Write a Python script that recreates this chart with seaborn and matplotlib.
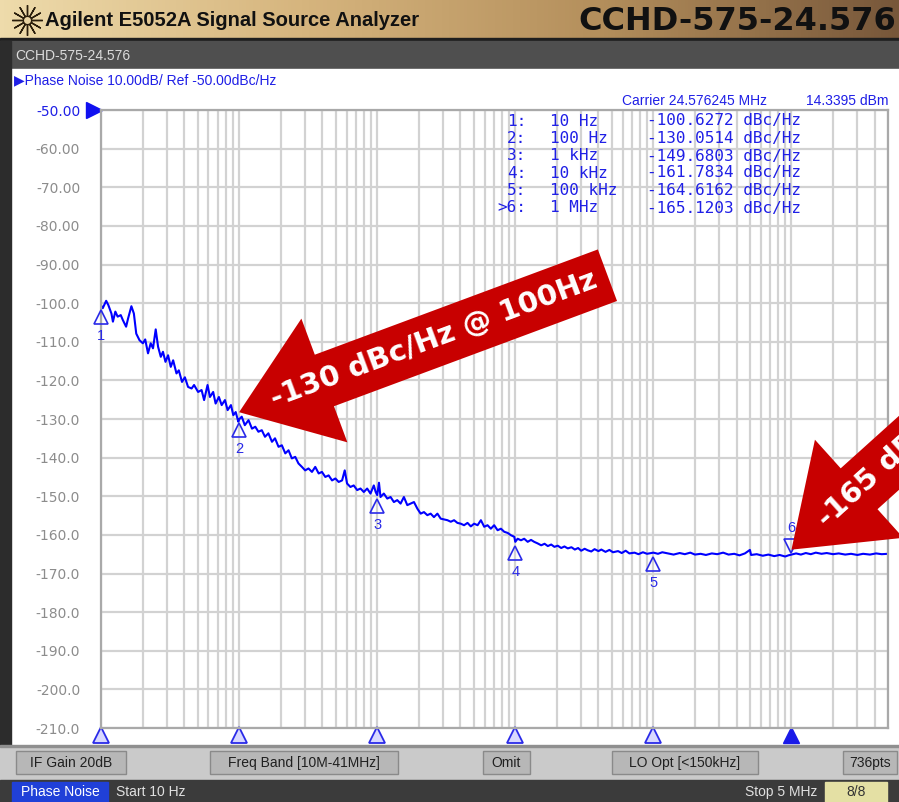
import matplotlib
matplotlib.use("Agg")
import matplotlib.pyplot as plt
import numpy as np
import seaborn as sns
from matplotlib import transforms
from matplotlib.colors import LinearSegmentedColormap
from matplotlib.patches import FancyArrow, Rectangle
from matplotlib.ticker import FixedLocator, LogLocator, NullFormatter

# phase noise trace (offset Hz, dBc/Hz)
trace_hz = [
	10.0, 10.3, 10.9, 11.3, 11.9, 12.2, 12.7, 13.2, 13.9, 14.4, 15.2, 15.7, 16.6, 17.3, 18.0, 19.0,
	20.1, 20.9, 21.9, 22.9, 23.8, 24.9, 25.9, 27.1, 28.1, 29.3, 30.6, 32.0, 33.3, 35.2, 36.6, 38.6,
	40.5, 42.7, 45.3, 47.2, 50.5, 53.5, 55.8, 59.1, 61.5, 64.9, 67.6, 71.4, 74.8, 79.0, 82.6, 87.3,
	90.8, 94.5, 98.7, 100, 104.5, 110, 117, 124, 131, 138, 146, 154, 163, 173, 182, 193, 204, 216,
	228, 241, 255, 269, 285, 301, 318, 337, 356, 377, 398, 421, 445, 471, 498, 526, 557, 582, 605,
	640, 676, 716, 757, 800, 846, 894, 945, 975, 1000, 1030, 1057, 1117, 1183, 1250, 1321, 1397,
	1477, 1561, 1652, 1746, 1846, 1953, 2064, 2181, 2307, 2438, 2577, 2729, 2884, 3048, 3226, 3410,
	3604, 3811, 4027, 4256, 4508, 4764, 5035, 5333, 5636, 5957, 6295, 6653, 7031, 7447, 7870, 8318,
	8810, 9311, 9840, 10000, 10400, 11000, 11600, 12300, 13000, 13700, 14500, 15400, 16300, 17200,
	18200, 19200, 20300, 21500, 22700, 24000, 25500, 27000, 28500, 30000, 31800, 33500, 35500,
	37500, 40000, 42000, 45000, 48000, 51000, 55500, 59000, 63000, 67000, 73000, 78000, 84000,
	90000, 96800, 100000, 108000, 116000, 128000, 140000, 155000, 169000, 185000, 200000, 220000,
	240000, 265000, 290000, 320000, 350000, 385000, 420000, 460000, 500000, 510000, 560000, 620000,
	680000, 750000, 820000, 900000, 950000, 1000000, 1080000, 1170000, 1270000, 1380000, 1500000,
	1650000, 1800000, 2000000, 2200000, 2450000, 2700000, 3000000, 3300000, 3700000, 4100000,
	4500000, 5000000,
]
trace_dbc = [
	-100.6, -101.3, -99.4, -100.5, -102.7, -104.8, -102.2, -103.5, -103.1, -104.4, -106.1, -104.0, -100.8, -102.7, -107.9, -109.6,
	-110.4, -109.4, -113.0, -110.4, -111.7, -106.8, -111.3, -113.9, -112.6, -115.2, -113.5, -116.5, -114.8, -118.2, -117.4, -120.4,
	-119.2, -121.7, -122.1, -121.2, -123.0, -122.5, -125.1, -121.2, -124.3, -123.0, -126.0, -124.3, -126.4, -125.1, -127.7, -126.4,
	-129.0, -128.2, -130.7, -130.1, -129.4, -131.6, -130.3, -132.5, -132.0, -133.3, -132.9, -134.6, -133.7, -135.9, -135.0, -137.2, -136.8, -138.9,
	-138.1, -140.2, -139.8, -141.5, -142.4, -143.3, -142.8, -143.7, -142.4, -144.1, -143.7, -145.0, -144.6, -145.9, -145.4, -146.3, -145.9, -143.3, -146.7,
	-147.6, -147.2, -148.4, -148.0, -148.9, -148.0, -149.3, -147.2, -148.9, -149.7, -146.5, -150.2, -149.3, -150.6, -150.2, -151.5, -151.0,
	-151.9, -150.2, -152.3, -151.9, -151.5, -153.2, -154.5, -154.1, -154.9, -154.5, -155.4, -154.5, -155.8, -156.0, -156.2, -156.6,
	-156.2, -156.9, -157.1, -157.5, -156.9, -157.8, -157.1, -157.5, -156.2, -157.9, -157.5, -158.4, -157.5, -158.8, -158.4, -159.2,
	-159.5, -160.1, -160.5, -161.8, -161.0, -161.4, -161.0, -161.8, -161.3, -161.8, -162.2, -162.7, -162.3, -162.9,
	-162.5, -163.1, -162.8, -163.4, -163.0, -163.5, -163.2, -163.8, -163.4, -164.1, -163.6, -164.0, -164.3,
	-163.7, -164.2, -163.8, -164.4, -163.9, -164.5, -164.2, -164.7, -164.1, -164.8, -164.6, -165.0, -164.5,
	-164.9, -164.7, -164.6, -164.9, -164.5, -164.8, -165.1, -164.7, -165.0, -164.6, -165.1, -164.9,
	-165.2, -164.8, -165.0, -164.6, -165.1, -164.9, -165.3, -164.8, -163.9, -165.2, -165.0, -165.4,
	-165.1, -165.5, -165.2, -165.6, -165.3, -165.1, -164.8, -165.1, -164.7, -165.0, -164.6,
	-164.9, -164.7, -165.0, -164.8, -165.1, -164.9, -165.2, -164.9, -165.1, -164.8,
	-165.0, -164.9,
]

marker_ids = ["1", "2", "3", "4", "5", "6"]
marker_hz = [10, 100, 1e3, 1e4, 1e5, 1e6]
marker_freq_text = ["10 Hz", "100 Hz", "1 kHz", "10 kHz", "100 kHz", "1 MHz"]
marker_dbc = [-100.6272, -130.0514, -149.6803, -161.7834, -164.6162, -165.1203]

y_ticks = [-210, -200, -190, -180, -170, -160, -150, -140, -130, -120, -110, -100, -90, -80, -70, -60, -50]
y_tick_labels = [
	"-210.0", "-200.0", "-190.0", "-180.0", "-170.0", "-160.0", "-150.0", "-140.0", "-130.0",
	"-120.0", "-110.0", "-100.0", "-90.00", "-80.00", "-70.00", "-60.00", "-50.00",
]

status_items = ["IF Gain 20dB", "Freq Band [10M-41MHz]", "Omit", "LO Opt [<150kHz]", "736pts"]
callout_texts = ["-130 dBc/Hz @ 100Hz", "-165 dBc/Hz @ 1MHz"]

# colours / layout (screen pixels, y down)
W, H = 899, 802
BLUE = "#1f1fe6"
TRACE = "#0000ff"
GRID = "#d2d2d2"
RED = "#c80000"
UI_FONT = ["Liberation Sans", "DejaVu Sans"]
PLOT_L, PLOT_R, PLOT_T, PLOT_B = 101, 888, 110, 728

sns.set_theme(style="white")
plt.rcParams["font.family"] = ["DejaVu Sans"]

fig = plt.figure(figsize=(W / 100, H / 100), dpi=100)

# ---- instrument chrome drawn in pixel space
bg = fig.add_axes([0, 0, 1, 1], zorder=0)
bg.axis("off")
gold = LinearSegmentedColormap.from_list("gold", ["#eedbab", "#d6b57e", "#b48f5c", "#77573a"])
bg.imshow(np.linspace(0, 1, 256)[None, :], extent=(0, W, 38, 0), aspect="auto", cmap=gold)
bg.set_xlim(0, W)
bg.set_ylim(H, 0)
bg.add_patch(Rectangle((0, 38), W, 3, color="#1e1e1e"))
bg.add_patch(Rectangle((0, 41), W, 28, color="#4f4f4f"))
bg.add_patch(Rectangle((0, 69), W, 677, color="white"))
bg.add_patch(Rectangle((0, 41), 11, 707, color="#2c2c2c"))
bg.add_patch(Rectangle((0, 746), W, 34, color="#cacaca"))
bg.add_patch(Rectangle((0, 745), W, 1.5, color="#8f8f8f"))
bg.add_patch(Rectangle((0, 780), W, 22, color="#3b3b3b"))

bg.plot(27, 20, marker=(12, 2, 0), ms=22, mew=1.0, color="#2a1e0c")
bg.plot(27, 20, marker="o", ms=6, mfc="#e8d3a2", mec="#2a1e0c", mew=1.0)
bg.text(45, 21, "Agilent E5052A Signal Source Analyzer", fontsize=14.5, fontweight="bold",
		family=UI_FONT, color="#111111", va="center", ha="left")
bg.text(896, 22, "CCHD-575-24.576", fontsize=23, fontweight="heavy", color="#111111", va="center", ha="right")
bg.text(15, 56, "CCHD-575-24.576", fontsize=10, family=UI_FONT, color="#dcdcdc", va="center")

bg.text(14, 80, "\u25b6Phase Noise 10.00dB/ Ref -50.00dBc/Hz", fontsize=10, family=UI_FONT,
		color=BLUE, va="center")
bg.text(767, 101, "Carrier 24.576245 MHz", fontsize=10, family=UI_FONT, color=BLUE, va="center", ha="right")
bg.text(888, 101, "14.3395 dBm", fontsize=10, family=UI_FONT, color=BLUE, va="center", ha="right")

box_x = [(16, 126), (210, 398), (483, 530), (612, 758), (843, 897)]
for (x0, x1), label in zip(box_x, status_items):
	bg.add_patch(Rectangle((x0, 751), x1 - x0, 23, fc="#b7b7b7", ec="#8a8a8a", lw=1))
	bg.text((x0 + x1) / 2, 763, label, fontsize=10, family=UI_FONT, color="#202020", ha="center", va="center")

bg.add_patch(Rectangle((12, 782), 96, 20, color="#2040d8"))
bg.text(60, 792, "Phase Noise", fontsize=10, family=UI_FONT, color="white", ha="center", va="center")
bg.text(116, 792, "Start 10 Hz", fontsize=10, family=UI_FONT, color="#e0e0e0", va="center")
bg.text(817, 792, "Stop 5 MHz", fontsize=10, family=UI_FONT, color="#e0e0e0", va="center", ha="right")
bg.add_patch(Rectangle((825, 782), 62, 20, color="#e4e0a4"))
bg.text(856, 792, "8/8", fontsize=10, family=UI_FONT, color="#333333", ha="center", va="center")

# ---- the trace window
ax = fig.add_axes(
	[PLOT_L / W, 1 - PLOT_B / H, (PLOT_R - PLOT_L) / W, (PLOT_B - PLOT_T) / H], zorder=2
)
ax.set_facecolor("white")
sns.lineplot(x=trace_hz, y=trace_dbc, ax=ax, color=TRACE, lw=1.5, estimator=None)
ax.set_xscale("log")
ax.set_xlim(10, 5e6)
ax.set_ylim(-210, -50)
ax.xaxis.set_major_locator(LogLocator(base=10, numticks=12))
ax.xaxis.set_minor_locator(LogLocator(base=10, subs=[2, 3, 4, 5, 6, 7, 8, 9], numticks=12))
ax.xaxis.set_major_formatter(NullFormatter())
ax.xaxis.set_minor_formatter(NullFormatter())
ax.yaxis.set_major_locator(FixedLocator(y_ticks))
ax.set_yticklabels(y_tick_labels)
ax.tick_params(axis="both", which="both", length=0)
ax.tick_params(axis="y", pad=15, labelsize=10, labelcolor="#8c8c8c")
ax.get_yticklabels()[-1].set_color(BLUE)
ax.grid(True, which="both", axis="x", color=GRID, lw=1.6)
ax.grid(True, which="major", axis="y", color=GRID, lw=1.6)
ax.set_axisbelow(True)
for side in ax.spines.values():
	side.set_color("#a9a9a9")
	side.set_linewidth(1.6)
ax.set_xlabel("")
ax.set_ylabel("")

# reference level pointer
ref_tr = transforms.offset_copy(ax.transData, fig=fig, x=-7, y=0, units="dots")
ax.plot([10], [-50], marker=">", ms=11, color="#1010f0", transform=ref_tr, clip_on=False)

# markers on the trace
below = transforms.offset_copy(ax.transData, fig=fig, x=0, y=-11, units="dots")
above = transforms.offset_copy(ax.transData, fig=fig, x=0, y=9, units="dots")
ax.plot(marker_hz[:5], marker_dbc[:5], ls="none", marker="^", ms=10, mfc="none", mec="#2a2ae8",
		mew=1.2, transform=below, clip_on=False, zorder=4)
ax.plot(marker_hz[5:], marker_dbc[5:], ls="none", marker="v", ms=10, mfc="none", mec="#2a2ae8",
		mew=1.2, transform=above, clip_on=False, zorder=4)
for i, (mx, my) in enumerate(zip(marker_hz, marker_dbc)):
	dy = 27 if i == 5 else -30
	ax.annotate(marker_ids[i], (mx, my), xytext=(0, dy), textcoords="offset pixels", ha="center",
				va="center", fontsize=10.5, family=UI_FONT, color="#2a2ae8", annotation_clip=False)

# marker strip under the graticule
strip = transforms.blended_transform_factory(ax.transData, ax.transAxes)
strip_tr = transforms.offset_copy(strip, fig=fig, x=0, y=-7, units="dots")
ax.plot(marker_hz[:5], [0] * 5, ls="none", marker="^", ms=11, mfc="#d8d8ff", mec="#2a2ae8", mew=1.3,
		transform=strip_tr, clip_on=False)
ax.plot(marker_hz[5:], [0], ls="none", marker="^", ms=11, color="#1a1ae8", transform=strip_tr, clip_on=False)

# ---- overlay in pixel space: marker readout and red call-outs
fg = fig.add_axes([0, 0, 1, 1], zorder=6)
fg.set_xlim(0, W)
fg.set_ylim(H, 0)
fg.axis("off")

table_y = [121, 138.5, 156, 173, 190.5, 208]
for i, ty in enumerate(table_y):
	tag = (">" if i == 5 else "") + marker_ids[i] + ":"
	fg.text(526, ty, tag, fontsize=11.5, family="DejaVu Sans Mono", color=BLUE, ha="right", va="center")
	fg.text(550, ty, marker_freq_text[i], fontsize=11.5, family="DejaVu Sans Mono", color=BLUE, va="center")
	fg.text(647, ty, f"{marker_dbc[i]:.4f} dBc/Hz", fontsize=11.5, family="DejaVu Sans Mono", color=BLUE,
			va="center")


def to_px(x, y):
	return fg.transData.inverted().transform(ax.transData.transform((x, y)))


callout_setup = [(marker_hz[1], marker_dbc[1], 7, 20.4), (marker_hz[5], marker_dbc[5], 5, 42.0)]
for (mx, my, lift, angle), label in zip(callout_setup, callout_texts):
	tip = to_px(mx, my) - np.array([0, lift])
	ux, uy = np.cos(np.radians(angle)), -np.sin(np.radians(angle))
	tail = tip + 393 * np.array([ux, uy])
	fg.add_patch(FancyArrow(tail[0], tail[1], tip[0] - tail[0], tip[1] - tail[1], width=55, head_width=132,
							head_length=91, length_includes_head=True, fc=RED, ec="none", clip_on=False))
	mid = tip + 208 * np.array([ux, uy])
	fg.text(mid[0], mid[1], label, rotation=angle, rotation_mode="anchor", ha="center", va="center",
			fontsize=21, fontweight="bold", color="white")

fig.savefig("out.png", dpi=100)
